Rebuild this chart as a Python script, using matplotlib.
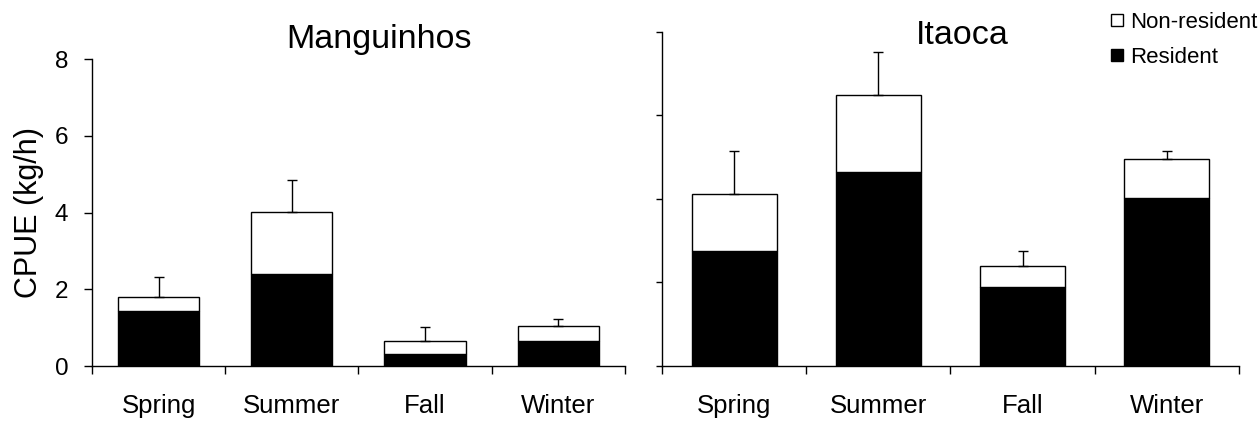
import numpy as np
import matplotlib.pyplot as plt
from matplotlib.patches import Patch

plt.rcParams['font.family'] = ['Liberation Sans', 'DejaVu Sans']

seasons = ["Spring", "Summer", "Fall", "Winter"]

# Manguinhos
mang_res = [1.44, 2.39, 0.32, 0.65]
mang_nonres = [0.36, 1.62, 0.32, 0.40]
mang_err = [0.51, 0.83, 0.37, 0.17]

# Itaoca
ita_res = [3.00, 5.05, 2.05, 4.38]
ita_nonres = [1.49, 2.03, 0.57, 1.02]
ita_err = [1.12, 1.12, 0.38, 0.21]


def draw_panel(ax, res, nonres, err, width):
    x = np.arange(len(seasons)) + 0.5
    total = np.array(res) + np.array(nonres)
    ax.bar(x, res, width, color='black', edgecolor='black', linewidth=1)
    ax.bar(x, nonres, width, bottom=res, color='white', edgecolor='black', linewidth=1)
    ax.errorbar(x, total, yerr=[np.zeros(len(err)), err], fmt='none',
                ecolor='black', elinewidth=1, capsize=3.5, capthick=1)
    ax.set_xlim(0, len(seasons))
    ax.set_xticks(np.arange(len(seasons) + 1))
    ax.set_xticks(x, minor=True)
    ax.set_xticklabels(seasons, minor=True)
    ax.tick_params(axis='x', which='major', length=5.8, width=1, labelbottom=False)
    ax.tick_params(axis='x', which='minor', length=0, pad=20, labelsize=18.5)
    ax.spines['top'].set_visible(False)
    ax.spines['right'].set_visible(False)
    ax.spines['left'].set_linewidth(1)
    ax.spines['bottom'].set_linewidth(1)
    return ax


fig = plt.figure(figsize=(12.6, 4.21), dpi=100)
ax1 = fig.add_axes([0.0730, 0.1306, 0.4230, 0.7285])
ax2 = fig.add_axes([0.5254, 0.1306, 0.4579, 0.7943])

draw_panel(ax1, mang_res, mang_nonres, mang_err, 0.61)
ax1.set_ylim(0, 8)
ax1.set_yticks([0, 2, 4, 6, 8])
ax1.tick_params(axis='y', length=6, width=1, pad=11, labelsize=17.5)
ax1.set_ylabel("CPUE (kg/h)", fontsize=22, labelpad=8)
ax1.text(0.539, 1.037, "Manguinhos", transform=ax1.transAxes,
         ha='center', va='baseline', fontsize=24.5)

draw_panel(ax2, ita_res, ita_nonres, ita_err, 0.59)
ax2.set_ylim(0, 8.72)
ax2.set_yticks(np.linspace(0, 8.72, 5))
ax2.tick_params(axis='y', length=4, width=1, labelleft=False)
ax2.text(0.521, 0.962, "Itaoca", transform=ax2.transAxes,
         ha='center', va='baseline', fontsize=24.5)

handles = [Patch(facecolor='white', edgecolor='black', linewidth=1),
           Patch(facecolor='black', edgecolor='black', linewidth=1)]
fig.legend(handles, ["Non-resident", "Resident"], loc='upper right',
           bbox_to_anchor=(0.998, 0.971), frameon=False, fontsize=16,
           handlelength=0.55, handleheight=0.45, handletextpad=0.3,
           labelspacing=0.6, borderpad=0, borderaxespad=0)

plt.savefig('out.png', dpi=100)
